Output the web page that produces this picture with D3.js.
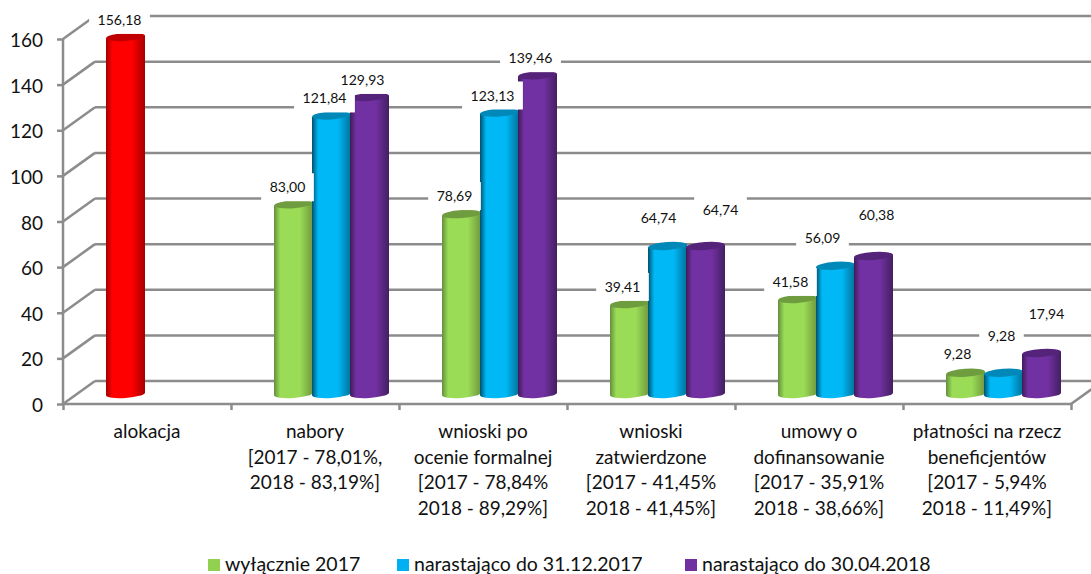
<!DOCTYPE html>
<html>
<head>
<meta charset="utf-8">
<script src="https://cdn.jsdelivr.net/npm/d3@7"></script>
<style>
    body { margin: 0; background: #fff; }
    svg { display: block; }
    text { font-family: Lato, sans-serif; fill: #111; }
</style>
</head>
<body>
<script>
// Data
const categories = ["alokacja", "nabory", "wnioski po ocenie", "wnioski zatwierdzone", "umowy o dofinansowanie", "płatności"];
const categoryLines = [
    ["alokacja"],
    ["nabory", "[2017 - 78,01%,", "2018 - 83,19%]"],
    ["wnioski po", "ocenie formalnej", "[2017 - 78,84%", "2018 - 89,29%]"],
    ["wnioski", "zatwierdzone", "[2017 - 41,45%", "2018 - 41,45%]"],
    ["umowy o", "dofinansowanie", "[2017 - 35,91%", "2018 - 38,66%]"],
    ["płatności na rzecz", "beneficjentów", "[2017 - 5,94%", "2018 - 11,49%]"]
];
const seriesNames = ["wyłącznie 2017", "narastająco do 31.12.2017", "narastająco do 30.04.2018"];
const only2017 = [156.18, 83.00, 78.69, 39.41, 41.58, 9.28];
const until2017 = [null, 121.84, 123.13, 64.74, 56.09, 9.28];
const until2018 = [null, 129.93, 139.46, 64.74, 60.38, 17.94];
const seriesValues = [only2017, until2017, until2018];
const yTicks = [0, 20, 40, 60, 80, 100, 120, 140, 160];

// Hand placed data labels, offset from the top of their bar (same shape as the series)
const labelDx = [
    [-6, -6, -7, -7, -7, -8],
    [0, -7, -7, -9, -13, -2],
    [0, -7, -7, 15, 3, 5]
];
const labelDy = [
    [-17, -17, -18, -17, -17, -19],
    [0, -17, -17, -28, -28, -37],
    [0, -17, -17, -36, -41, -39]
];

const outerWidth = 1091;
const outerHeight = 574;

// The front plane of the box and how far the back wall is pushed away from it
const frontLeft = 63;
const frontRight = 1071;
const frontBottom = 404;
const frontTop = 39;
const depthX = 32;
const depthY = 23;

const rx = 19.5;
const ry = 4;
const tilt = -4;
const tiltDrop = rx * Math.sin(-tilt * Math.PI / 180);

const svg = d3.select("body").append("svg")
    .attr("width", outerWidth)
    .attr("height", outerHeight)
    .attr("viewBox", `0 0 ${outerWidth} ${outerHeight}`);

// Scales
const yFront = d3.scaleLinear().domain([0, 160]).range([frontBottom, frontTop]);
const yBar = d3.scaleLinear().domain([0, 160]).range([394, 28.2]);
const xCategory = d3.scaleBand().domain(categories).range([frontLeft, frontRight]);
const xSeries = d3.scaleBand().domain(d3.range(3)).range([-40.5, 73.5]);
const xTicks = d3.scaleLinear().domain([0, 6]).range([frontLeft, frontRight]);

// Cylinder colours: [edge left, body, edge right, top]
const shades = {
    red: ["#a00000", "#ff0000", "#a80000", "#c00000"],
    green: ["#64903a", "#9bdc57", "#6f983e", "#6f9c3e"],
    blue: ["#00516e", "#00b8f5", "#00729a", "#0089b8"],
    purple: ["#3f1c58", "#7231a3", "#431f60", "#55247a"]
};
const seriesShade = ["green", "blue", "purple"];

const defs = svg.append("defs");
Object.entries(shades).forEach(([name, c]) => {
    const grad = defs.append("linearGradient").attr("id", "cyl-" + name);
    [[0, c[0]], [0.16, c[1]], [0.66, c[1]], [1, c[2]]].forEach(s => {
        grad.append("stop").attr("offset", s[0]).attr("stop-color", s[1]);
    });
});

// Back wall gridlines and the diagonal on the left side
const grid = svg.append("g")
    .attr("fill", "none")
    .attr("stroke", "#8c8c8c")
    .attr("stroke-width", 2.5);

grid.selectAll(".wall")
    .data(yTicks)
    .join("line")
    .attr("class", "wall")
    .attr("x1", frontLeft + depthX)
    .attr("x2", frontRight + depthX)
    .attr("y1", d => yFront(d) - depthY)
    .attr("y2", d => yFront(d) - depthY);

grid.selectAll(".side")
    .data(yTicks)
    .join("line")
    .attr("class", "side")
    .attr("x1", frontLeft)
    .attr("x2", frontLeft + depthX)
    .attr("y1", d => yFront(d))
    .attr("y2", d => yFront(d) - depthY);

// Floor edge on the right
grid.append("line")
    .attr("x1", frontRight)
    .attr("x2", frontRight + depthX)
    .attr("y1", frontBottom)
    .attr("y2", frontBottom - depthY);

// Axes
const axisY = svg.append("g")
    .attr("transform", `translate(${frontLeft},0)`)
    .call(d3.axisLeft(yFront).tickValues(yTicks).tickSize(6).tickPadding(14).tickFormat(d3.format("d")));

const axisX = svg.append("g")
    .attr("transform", `translate(0,${frontBottom})`)
    .call(d3.axisBottom(xTicks).tickValues(d3.range(7)).tickSize(6).tickFormat(""));

[axisY, axisX].forEach(a => {
    a.selectAll("path, line").attr("stroke", "#8c8c8c").attr("stroke-width", 2.5);
    a.select("path").attr("d", a === axisY
        ? `M0,${frontTop}V${frontBottom}`
        : `M${frontLeft},0H${frontRight}`);
});
axisY.selectAll("text")
    .style("font-family", "Lato, sans-serif")
    .style("font-size", "19px")
    .attr("dy", "0.4em")
    .attr("fill", "#111");

// Flatten the series so that each bar knows where it sits
const bars = [];
seriesValues.forEach((values, s) => {
    values.forEach((v, c) => {
        if (v === null) return;
        bars.push({
            value: v,
            series: s,
            category: c,
            shade: (c === 0 && s === 0) ? "red" : seriesShade[s],
            cx: xCategory(categories[c]) + xCategory.bandwidth() / 2 + xSeries(s) + xSeries.bandwidth() / 2,
            dx: labelDx[s][c],
            dy: labelDy[s][c]
        });
    });
});

// Cylinders, drawn left to right so the later ones sit on top
const barGroups = svg.append("g").selectAll("g")
    .data(bars)
    .join("g");

barGroups.append("path")
    .attr("fill", d => `url(#cyl-${d.shade})`)
    .attr("d", d => {
        const top = yBar(d.value);
        const base = yBar(0);
        return `M${d.cx - rx},${top + tiltDrop}` +
            `L${d.cx - rx},${base + tiltDrop}` +
            `A${rx},${ry} ${tilt} 0 0 ${d.cx + rx},${base - tiltDrop}` +
            `L${d.cx + rx},${top - tiltDrop}Z`;
    });

barGroups.append("ellipse")
    .attr("rx", rx)
    .attr("ry", ry)
    .attr("fill", d => shades[d.shade][3])
    .attr("transform", d => `translate(${d.cx},${yBar(d.value)}) rotate(${tilt})`);

// Data labels with their white boxes, which also hide parts of bars and gridlines
const labelBoxes = svg.append("g");
const labels = svg.append("g").selectAll("text")
    .data(bars)
    .join("text")
    .attr("x", d => d.cx + d.dx)
    .attr("y", d => yBar(d.value) + d.dy)
    .attr("dy", "0.36em")
    .attr("text-anchor", "middle")
    .style("font-size", "14px")
    .text(d => d3.format(".2f")(d.value).replace(".", ","));

labels.each(function (d) {
    const w = this.getComputedTextLength() + 17;
    labelBoxes.append("rect")
        .attr("x", d.cx + d.dx - w / 2)
        .attr("y", yBar(d.value) + d.dy - 14)
        .attr("width", w)
        .attr("height", 28)
        .attr("fill", "#fff");
});

// Category labels under the floor
const catLabels = svg.append("g").selectAll("text")
    .data(categories)
    .join("text")
    .attr("text-anchor", "middle")
    .attr("y", 438)
    .style("font-size", "19px");

catLabels.selectAll("tspan")
    .data((d, i) => categoryLines[i].map(line => ({ line, cat: d })))
    .join("tspan")
    .attr("x", d => xCategory(d.cat) + xCategory.bandwidth() / 2)
    .attr("dy", (d, i) => i === 0 ? 0 : 25.7)
    .text(d => d.line);

// Legend
const legendX = [208, 397, 685];
const legendColors = ["#92d050", "#00b0f0", "#7030a0"];
const legend = svg.append("g").selectAll("g")
    .data(seriesNames)
    .join("g")
    .attr("transform", (d, i) => `translate(${legendX[i]},559)`);

legend.append("rect")
    .attr("width", 12)
    .attr("height", 12)
    .attr("fill", (d, i) => legendColors[i]);

legend.append("text")
    .attr("x", 17)
    .attr("y", 12)
    .style("font-size", "19.5px")
    .text(d => d);
</script>
</body>
</html>
